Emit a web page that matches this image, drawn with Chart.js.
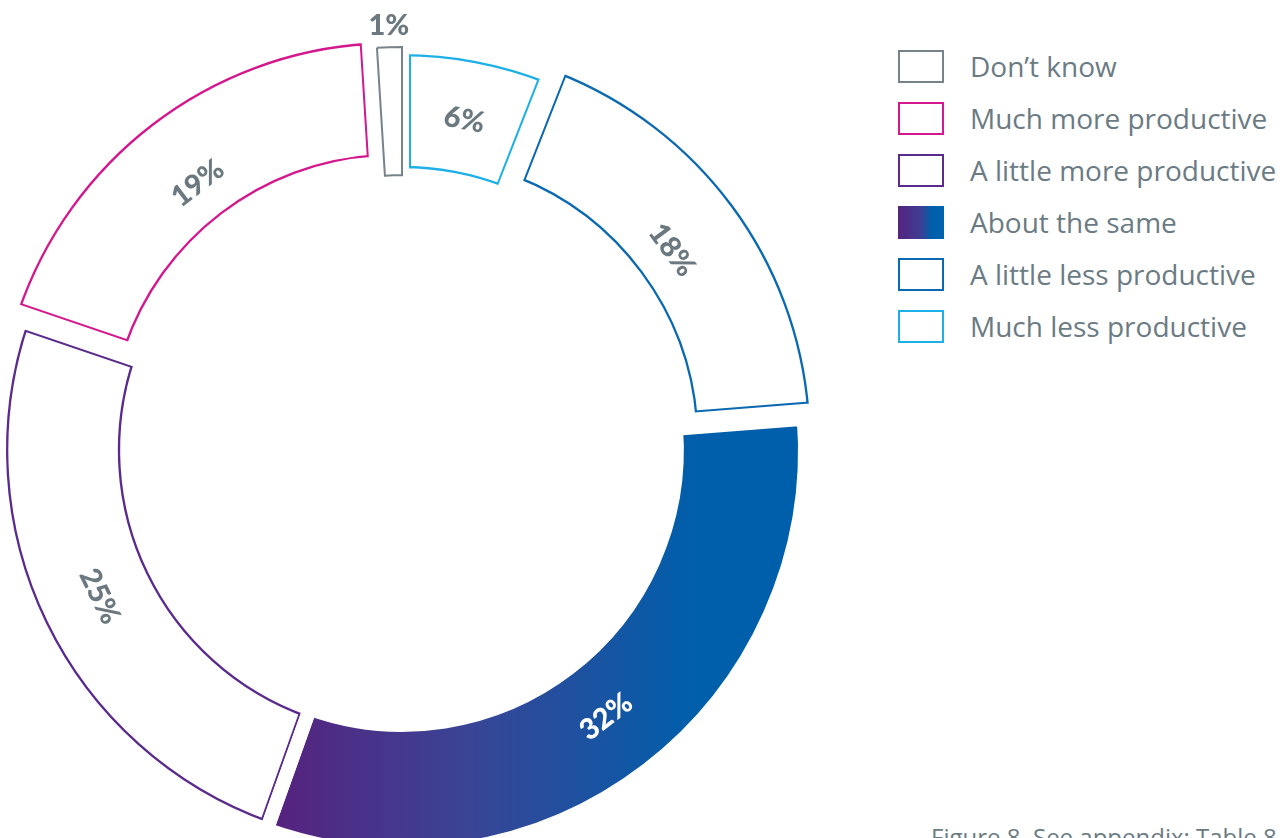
<!DOCTYPE html>
<html>
<head>
<meta charset="utf-8">
<script src="https://cdn.jsdelivr.net/npm/chart.js@4.4.0/dist/chart.umd.min.js"></script>
<style>
  html, body { margin: 0; padding: 0; background: #fff; }
  body { width: 1287px; height: 838px; overflow: hidden; position: relative; font-family: "Open Sans", sans-serif; }
  /* two stacked rings with the same geometry: the lower one paints the fills and
     a coloured inner band, the upper one strokes white gaps along every edge */
  .ring { position: absolute; }
  #base { left: -29px; top: 19px; width: 862px; height: 862px; }
  #cover { left: -36px; top: 12px; width: 876px; height: 876px; }
  #legend { position: absolute; left: 898px; top: 40px; }
  .item { height: 52px; display: flex; align-items: center; }
  .swatch { width: 46px; height: 33px; box-sizing: border-box; border: 2px solid #777; margin-right: 26px; }
  .item span { font-size: 28px; color: #6b7b84; }
  #caption { position: absolute; left: 931px; top: 820px; font-size: 24px; color: #6b7b84; white-space: nowrap; }
</style>
</head>
<body>
<div id="base" class="ring"><canvas id="ringBase"></canvas></div>
<div id="cover" class="ring"><canvas id="ringCover"></canvas></div>
<div id="legend"></div>
<div id="caption">Figure 8. See appendix: Table 8</div>

<script>
// answers, in legend order (counter-clockwise round the ring from the top)
const categories = ["Don\u2019t know", "Much more productive", "A little more productive",
                    "About the same", "A little less productive", "Much less productive"];
const shares = [1, 19, 25, 32, 18, 6];
const strokeColors = ["#76838b", "#d4178c", "#5a2a8c", "#3b3f94", "#0a69b1", "#1db0e8"];

// ring runs clockwise from the top, ending with the thin "Don't know" slice
const ringOrder = [5, 4, 3, 2, 1, 0];
const ringLabels = ringOrder.map(i => categories[i]);
const ringValues = ringOrder.map(i => shares[i]);
const ringStroke = ringOrder.map(i => strokeColors[i]);
const filledIndex = ringOrder.indexOf(3);
const thinIndex = ringOrder.indexOf(0);
const pushedOut = [ringOrder.indexOf(4), ringOrder.indexOf(1)];

const GAP = 14;   // white stroke centred on every edge
const EDGE = 9;   // coloured band painted inside each outlined slice

function sameGradient(chart) {
  const a = chart.chartArea;
  if (!a) return "#0061ad";
  const w = a.right - a.left;
  const g = chart.ctx.createLinearGradient(a.left + w * 0.36, 0, a.left + w * 0.84, 0);
  g.addColorStop(0, "#55237f");
  g.addColorStop(0.45, "#3a4495");
  g.addColorStop(1, "#005fab");
  return g;
}

const labelPlugin = {
  id: "ringLabels",
  afterDatasetsDraw(chart) {
    const ctx = chart.ctx;
    const meta = chart.getDatasetMeta(0);
    meta.data.forEach((arc, i) => {
      const p = arc.getProps(["x", "y", "startAngle", "endAngle", "innerRadius", "outerRadius"], true);
      const mid = (p.startAngle + p.endAngle) / 2;
      let r = (p.innerRadius + p.outerRadius) / 2 - 3;
      let rot = mid + Math.PI / 2;
      while (rot > Math.PI) rot -= 2 * Math.PI;
      if (rot > Math.PI / 2) rot -= Math.PI;
      if (rot < -Math.PI / 2) rot += Math.PI;
      if (i === thinIndex) { r = p.outerRadius + 22; rot = 0; }
      const x = p.x + Math.cos(mid) * r;
      const y = p.y + Math.sin(mid) * r;
      ctx.save();
      ctx.translate(x, y);
      ctx.rotate(rot);
      ctx.font = "900 29px Lato, sans-serif";
      ctx.textAlign = "center";
      ctx.textBaseline = "middle";
      ctx.fillStyle = i === filledIndex ? "#ffffff" : "#6b7880";
      ctx.fillText(ringValues[i] + "%", 0, 0);
      ctx.restore();
    });
  }
};

const outlined = i => i !== filledIndex && i !== thinIndex;

function makeRing(id, lower) {
  const dataset = { data: ringValues, hoverOffset: 0, borderJoinStyle: "miter",
                    offset: ringValues.map((v, i) => pushedOut.includes(i) ? 56 : 0) };
  if (lower) {
    dataset.backgroundColor = c => c.dataIndex === filledIndex ? sameGradient(c.chart) : "#ffffff";
    dataset.borderColor = ringStroke;
    dataset.borderAlign = c => outlined(c.dataIndex) ? "inner" : "center";
    dataset.borderWidth = ringValues.map((v, i) => outlined(i) ? EDGE : 0);
  } else {
    // the thin slice is drawn last on top, outlined right on its own edge
    dataset.backgroundColor = ringValues.map((v, i) => i === thinIndex ? "#ffffff" : "rgba(255,255,255,0)");
    dataset.borderColor = ringValues.map((v, i) => i === thinIndex ? ringStroke[i] : "#ffffff");
    dataset.borderWidth = ringValues.map((v, i) => i === thinIndex ? 2 : GAP);
    dataset.borderAlign = "center";
  }
  return new Chart(document.getElementById(id), {
    type: "doughnut",
    data: { labels: ringLabels, datasets: [dataset] },
    options: {
      responsive: true,
      maintainAspectRatio: false,
      animation: false,
      events: [],
      rotation: 0,
      cutout: "68.2%",
      layout: { padding: 0 },
      plugins: { legend: { display: false }, tooltip: { enabled: false } }
    },
    plugins: lower ? [] : [labelPlugin]
  });
}

makeRing("ringBase", true);
makeRing("ringCover", false);

// legend on the right
const legend = document.getElementById("legend");
categories.forEach((name, i) => {
  const row = document.createElement("div");
  row.className = "item";
  const sw = document.createElement("div");
  sw.className = "swatch";
  if (i === 3) {
    sw.style.border = "none";
    sw.style.background = "linear-gradient(to right, #55237f 0%, #3d3f92 50%, #005fab 72%, #0063ae 100%)";
  } else {
    sw.style.borderColor = strokeColors[i];
  }
  const txt = document.createElement("span");
  txt.textContent = name;
  row.appendChild(sw);
  row.appendChild(txt);
  legend.appendChild(row);
});
</script>
</body>
</html>
